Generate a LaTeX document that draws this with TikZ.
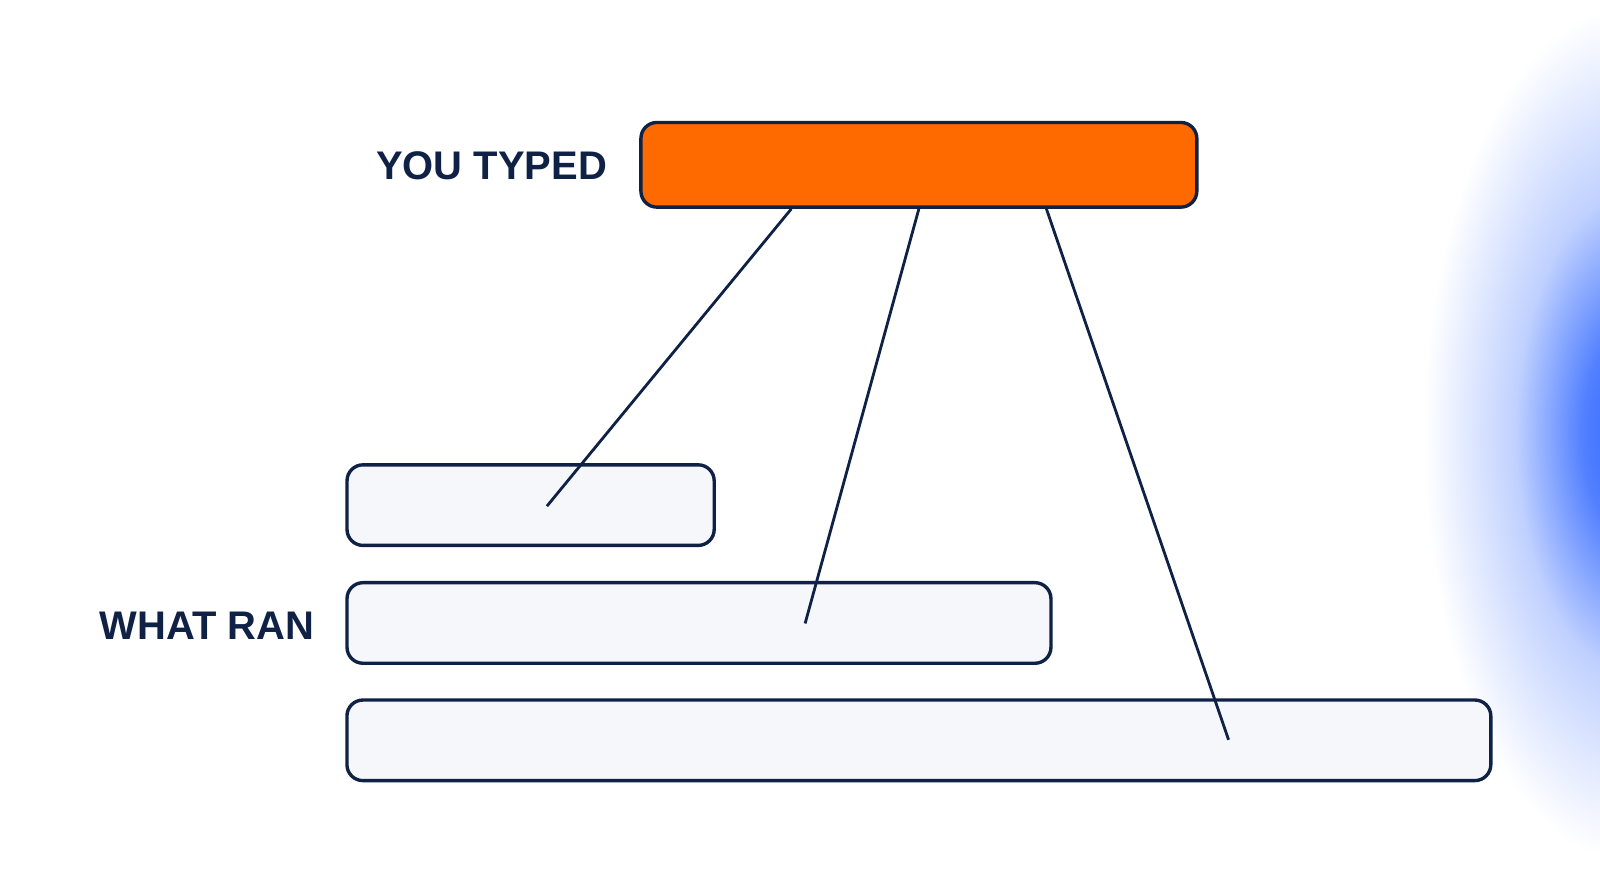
\documentclass[tikz,border=0pt]{standalone}
\usepackage{fontspec}
\setmainfont{Liberation Sans}
\usetikzlibrary{positioning,calc}

\definecolor{navy}{HTML}{0F2246}
\definecolor{typedorange}{HTML}{FF6A00}
\definecolor{rowfill}{HTML}{F5F7FA}
\definecolor{glowblue}{HTML}{2C64FF}

\pgfdeclareradialshading{glow}{\pgfpoint{0bp}{0bp}}{%
  color(0bp)=(glowblue); color(6bp)=(glowblue!82!white);
  color(14bp)=(glowblue!30!white); color(25bp)=(white); color(50bp)=(white)}

\begin{document}
\begin{tikzpicture}[x=0.02551cm, y=-0.02551cm,
    box/.style={draw=navy, line width=2.4pt, rounded corners=0.4cm, inner sep=0pt},
    rowbox/.style={box, fill=rowfill, minimum height=2.015cm},
    tag/.style={text=navy, font=\fontsize{28.4}{31}\selectfont\bfseries, inner sep=0pt, text depth=0pt},
    link/.style={draw=navy, line width=2pt}]

    % Canvas and the glow on the right
    \useasboundingbox (0,0) rectangle (1568,875);
    \begin{scope}
        \clip (0,0) rectangle (1568,875);
        \shade[shading=glow] (1600,425) ellipse [x radius=205, y radius=420];
    \end{scope}

    % What was typed
    \node[box, fill=typedorange, minimum width=13.9cm, minimum height=2.117cm] (typed) at (900.5,161.5) {};
    \node[tag, anchor=east] (typedlabel) at (595,162) {YOU TYPED};

    % The rows that ran
    \node[rowbox, minimum width=9.18cm] (ranA) at (520,495) {};
    \node[rowbox, minimum width=17.6cm] (ranB) at (685,610.5) {};
    \node[rowbox, minimum width=28.6cm] (ranC) at (900.5,725.5) {};
    \node[tag, anchor=east] (ranlabel) at (308,613) {WHAT RAN};

    % Ends of the links inside the rows
    \coordinate (endA) at (536,496);
    \coordinate (endB) at (789,611);
    \coordinate (endC) at (1204,725);

    % Draw the links from the typed box
    \foreach \f/\e in {0.272/endA, 0.5/endB, 0.728/endC} {
        \draw[link] ($(typed.south west)!\f!(typed.south east)$) -- (\e);
    }
\end{tikzpicture}
\end{document}
